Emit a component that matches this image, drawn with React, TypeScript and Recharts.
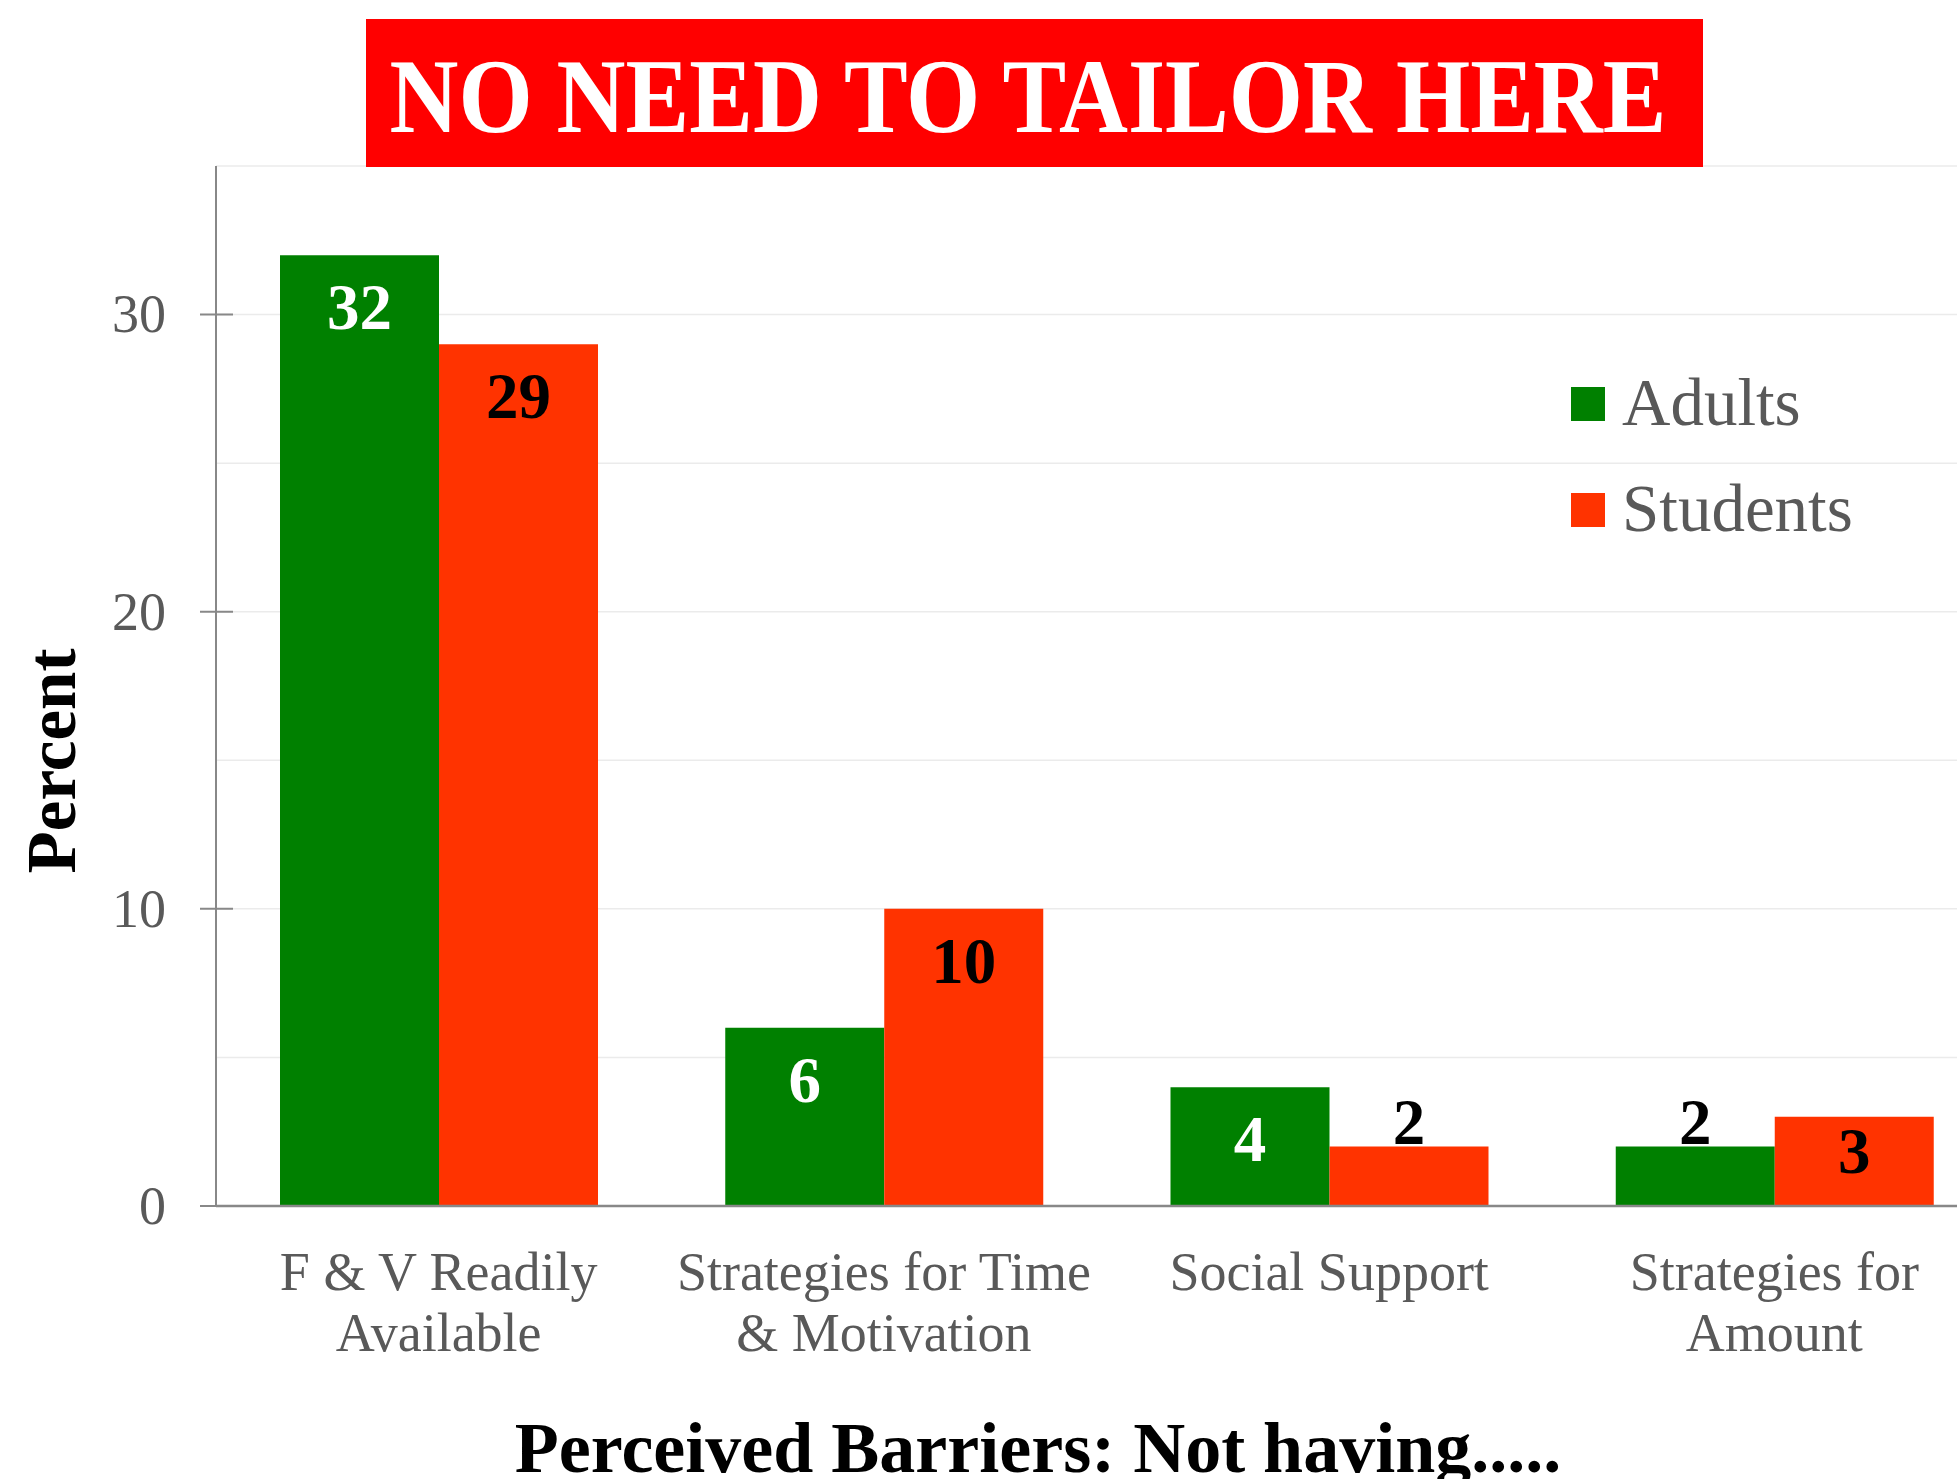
import React from "react";
import {
  Bar,
  BarChart,
  CartesianGrid,
  LabelList,
  Legend,
  XAxis,
  YAxis,
} from "recharts";

const categories = [
  "F & V Readily\nAvailable",
  "Strategies for Time\n& Motivation",
  "Social Support",
  "Strategies for\nAmount",
];
const adults = [32, 6, 4, 2];
const students = [29, 10, 2, 3];
const yTicks = [0, 10, 20, 30];
const gridValues = [5, 10, 15, 20, 25, 30, 35];

const data = categories.map((name, i) => ({
  name,
  adults: adults[i],
  students: students[i],
}));

const serif = "'Liberation Serif', 'Times New Roman', serif";
const grey = "#595959";
const axisGrey = "#888888";

const YTick = (props: any) => {
  const { x, y, payload } = props;
  return (
    <g>
      <line x1={x - 16} x2={x + 17} y1={y} y2={y} stroke={axisGrey} strokeWidth={2} />
      <text
        x={x - 50}
        y={y}
        dy="0.33em"
        textAnchor="end"
        fontFamily={serif}
        fontSize={54}
        fill={grey}
      >
        {payload.value}
      </text>
    </g>
  );
};

const XTick = (props: any) => {
  const { x, y, payload } = props;
  const lines = String(payload.value).split("\n");
  return (
    <text textAnchor="middle" fontFamily={serif} fontSize={54} fill={grey}>
      {lines.map((line, i) => (
        <tspan key={i} x={x} y={y + 84 + i * 61}>
          {line}
        </tspan>
      ))}
    </text>
  );
};

// label sits inside the bar top, or above the bar when the bar is too short
const makeLabel = (insideColor: string) => (props: any) => {
  const { x, y, width, height, value } = props;
  const bottom = y + height;
  const outside = height < 80;
  const baseline = outside ? y - 3 : Math.min(y + 74, bottom - 33);
  return (
    <text
      x={x + width / 2}
      y={baseline}
      textAnchor="middle"
      fontFamily={serif}
      fontWeight="bold"
      fontSize={65}
      fill={outside ? "#000000" : insideColor}
    >
      {value}
    </text>
  );
};

const LegendContent = (props: any) => {
  const { payload = [] } = props;
  return (
    <svg width={420} height={260} style={{ overflow: "visible" }}>
      {payload.map((p: any, i: number) => (
        <g key={p.value}>
          <rect x={0} y={47 + i * 106} width={34} height={34} fill={p.color} />
          <text x={51} y={85 + i * 106} fontFamily={serif} fontSize={67} fill={grey}>
            {p.value}
          </text>
        </g>
      ))}
    </svg>
  );
};

const App = () => {
  return (
    <div
      style={{
        position: "absolute",
        left: 0,
        top: 0,
        width: 1957,
        height: 1479,
        overflow: "hidden",
        background: "#ffffff",
      }}
    >
      <BarChart
        width={1997}
        height={1479}
        data={data}
        margin={{ top: 166, right: 0, bottom: 0, left: 0 }}
        barGap={0}
      >
        <CartesianGrid
          vertical={false}
          horizontalValues={gridValues}
          stroke="#ebebeb"
          strokeWidth={1.5}
        />
        <XAxis
          dataKey="name"
          height={273}
          tickLine={false}
          tickSize={0}
          tickMargin={0}
          tick={<XTick />}
          interval={0}
          stroke={axisGrey}
          strokeWidth={2.5}
        />
        <YAxis
          width={216}
          domain={[0, 35]}
          ticks={yTicks}
          tickLine={false}
          tickSize={0}
          tickMargin={0}
          tick={<YTick />}
          stroke={axisGrey}
          strokeWidth={2}
          allowDataOverflow
        />
        <Legend
          layout="horizontal"
          verticalAlign="middle"
          align="center"
          content={<LegendContent />}
          wrapperStyle={{ position: "absolute", left: 1571, top: 340, width: 420, height: 260 }}
        />
        <Bar dataKey="adults" name="Adults" fill="#008000" barSize={159} isAnimationActive={false}>
          <LabelList dataKey="adults" content={makeLabel("#ffffff")} />
        </Bar>
        <Bar dataKey="students" name="Students" fill="#FF3300" barSize={159} isAnimationActive={false}>
          <LabelList dataKey="students" content={makeLabel("#000000")} />
        </Bar>
      </BarChart>
      <svg
        width={1957}
        height={1479}
        style={{ position: "absolute", left: 0, top: 0, pointerEvents: "none" }}
      >
        <rect x={366} y={19} width={1337} height={148} fill="#FF0000" />
        <text
          x={1028}
          y={132}
          textAnchor="middle"
          fontFamily={serif}
          fontWeight="bold"
          fontSize={106}
          fill="#ffffff"
          textLength={1277}
          lengthAdjust="spacingAndGlyphs"
        >
          NO NEED TO TAILOR HERE
        </text>
        <text
          transform="translate(75, 761) rotate(-90)"
          textAnchor="middle"
          fontFamily={serif}
          fontWeight="bold"
          fontSize={69}
          fill="#000000"
        >
          Percent
        </text>
        <text
          x={1038}
          y={1472}
          textAnchor="middle"
          fontFamily={serif}
          fontWeight="bold"
          fontSize={72}
          fill="#000000"
        >
          Perceived Barriers: Not having.....
        </text>
      </svg>
    </div>
  );
};

export default App;
